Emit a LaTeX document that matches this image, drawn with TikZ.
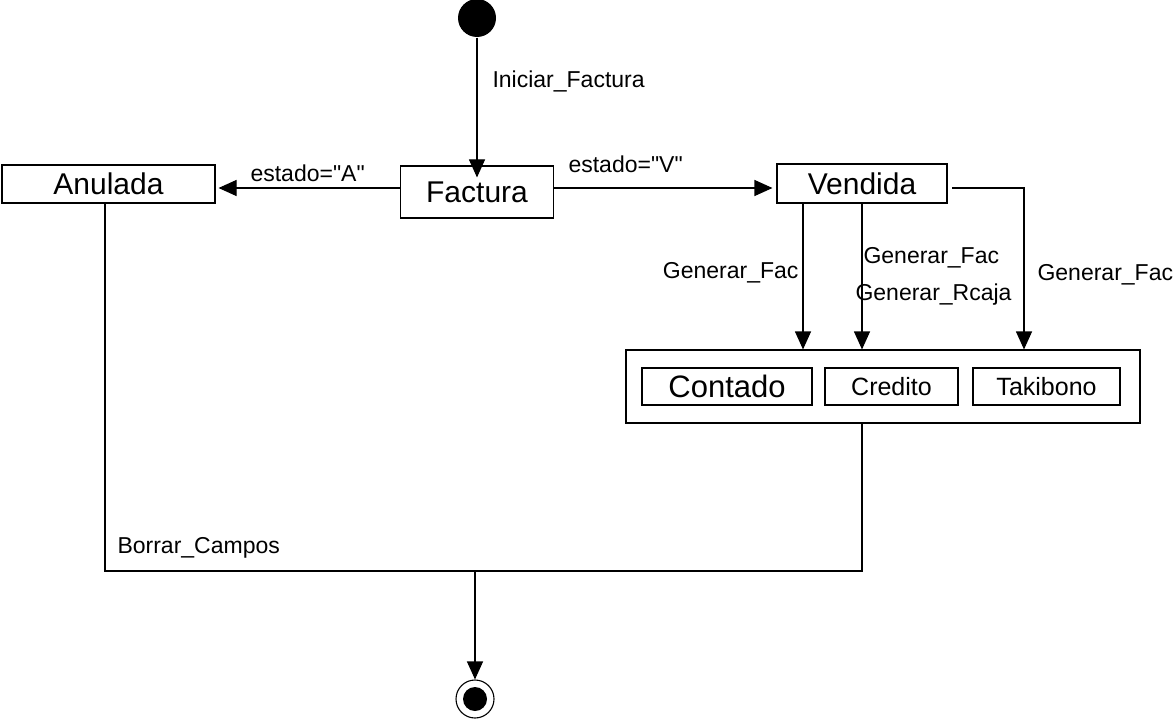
\documentclass[tikz,border=0pt]{standalone}
\usepackage{fontspec}
\setmainfont{Liberation Sans}
\usetikzlibrary{arrows.meta}
\begin{document}
\begin{tikzpicture}[x=1pt,y=-1pt,line width=1.1pt,
  state/.style={draw,inner sep=0pt,fill=white},
  big/.style={font=\fontsize{30}{34}\selectfont},
  lbl/.style={inner sep=0pt,anchor=base west,font=\fontsize{23}{27}\selectfont},
  flow/.style={-{Triangle[length=18pt,width=16pt]}}]
\useasboundingbox (0,0) rectangle (1174,719);

% states
\node[circle,fill=black,minimum size=38pt,inner sep=0pt] (init) at (477,18) {};
\node[state,big,minimum width=153pt,minimum height=52pt] (fact) at (477,192) {Factura};
\node[state,big,minimum width=213pt,minimum height=38pt] (anul) at (108.5,184) {Anulada};
\node[state,big,minimum width=170pt,minimum height=39pt] (vend) at (862,183.5) {Vendida};

% composite state with its substates
\node[state,minimum width=514pt,minimum height=73pt] (comp) at (883,386.5) {};
\node[state,font=\fontsize{31}{35}\selectfont,minimum width=170pt,minimum height=37pt] (cont) at (727,386.5) {Contado};
\node[state,font=\fontsize{25}{29}\selectfont,minimum width=133pt,minimum height=37pt] (cred) at (891.5,386.5) {Credito};
\node[state,font=\fontsize{25}{29}\selectfont,minimum width=147pt,minimum height=37pt] (taki) at (1046.5,386.5) {Takibono};

% final state
\node[circle,draw,minimum size=38pt,inner sep=0pt] (fin) at (475,699) {};
\node[circle,fill=black,minimum size=24pt,inner sep=0pt] (finin) at (fin.center) {};

% helper coordinates for the orthogonal connectors
\coordinate (xa) at (803,0);
\coordinate (xb) at (862,0);
\coordinate (xc) at (1024,0);
\coordinate (vr) at (952,188);
\coordinate (jr) at (862,571);
\coordinate (jl) at (105,571);
\coordinate (jm) at (475,571);

% transitions
\draw[flow,shorten >=-12pt] (init) -- (fact.north);
\draw[flow,shorten >=3pt] (fact.west |- 0,188) -- (anul.east |- 0,188);
\draw[flow,shorten >=4pt] (fact.east |- 0,188) -- (vend.west |- 0,188);
\draw[flow] (xa |- vend.south) -- (xa |- comp.north);
\draw[flow] (xb |- vend.south) -- (xb |- comp.north);
\draw[flow] (vr) -| (xc |- comp.north);
\draw (xb |- comp.south) -- (jr) -- (jl) -- (jl |- anul.south);
\draw[flow] (jm) -- (fin.north);

% transition labels
\node[lbl] (l1) at (492,88) {Iniciar\_Factura};
\node[lbl] (l2) at (250,182) {estado=\textquotedbl A\textquotedbl};
\node[lbl] (l3) at (568,173) {estado=\textquotedbl V\textquotedbl};
\node[lbl,anchor=base east] (l4) at (799,278) {Generar\_Fac};
\node[lbl] (l5) at (863,263) {Generar\_Fac};
\node[lbl] (l6) at (855,300) {Generar\_Rcaja};
\node[lbl] (l7) at (1037,280) {Generar\_Fac};
\node[lbl] (l8) at (117,553) {Borrar\_Campos};
\end{tikzpicture}
\end{document}
